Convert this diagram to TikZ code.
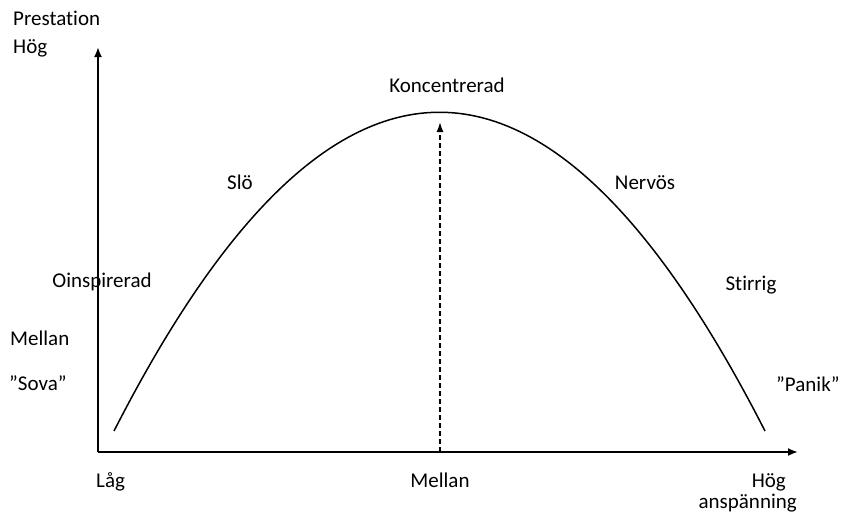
\documentclass[tikz,border=0pt]{standalone}
\usepackage{fontspec}
\setmainfont{Carlito}[Ligatures={NoCommon}]
\usetikzlibrary{arrows.meta}
\begin{document}
\begin{tikzpicture}[x=1pt,y=-1pt,
  lbl/.style={inner sep=0pt,font=\fontsize{21}{25}\selectfont,text=black},
  axis/.style={line width=1.9pt,-{Latex[length=10pt,width=8pt]}},
  curve/.style={line width=1.5pt},
  guide/.style={line width=1.5pt,dash pattern=on 5pt off 3pt,-{Latex[length=10pt,width=7pt]}}]
\useasboundingbox (0,0) rectangle (866,515);
\coordinate (O) at (98,452);
\coordinate (Ytip) at (98,47);
\coordinate (Xtip) at (798,452);
\coordinate (Cstart) at (114,431);
\coordinate (Cend) at (765,431);
\coordinate (Mbase) at (440,452);
\coordinate (Mtop) at (440,122);
\draw[axis] (O) -- (Ytip);
\draw[axis] (O) -- (Xtip);
\draw[curve] (Cstart) .. controls (331,6) and (548,6) .. (Cend);
\draw[guide] (Mbase) -- (Mtop);
\node[lbl,anchor=base west] (prest) at (13,25) {Prestation};
\node[lbl,anchor=base west] (hogy) at (13,53) {Hög};
\node[lbl,anchor=base] (konc) at (447,92) {Koncentrerad};
\node[lbl,anchor=base] (slo) at (240,189) {Slö};
\node[lbl,anchor=base] (nerv) at (645,189) {Nervös};
\node[lbl,anchor=base] (oinsp) at (102,287) {Oinspirerad};
\node[lbl,anchor=base] (stir) at (751,290) {Stirrig};
\node[lbl,anchor=base west] (melly) at (10,345) {Mellan};
\node[lbl,anchor=base west] (sova) at (9,390) {”Sova”};
\node[lbl,anchor=base west] (panik) at (776,391) {”Panik”};
\node[lbl,anchor=base west] (lag) at (96,487) {Låg};
\node[lbl,anchor=base] (mellx) at (440,487) {Mellan};
\node[lbl,anchor=base east] (hogx) at (786,487) {Hög};
\node[lbl,anchor=base east] (ansp) at (797,508) {anspänning};
\end{tikzpicture}
\end{document}
